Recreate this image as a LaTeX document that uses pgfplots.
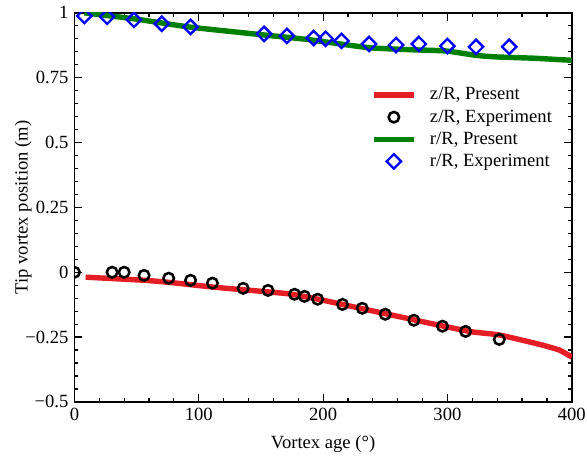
\documentclass[border=0pt]{standalone}
\usepackage{pgfplots}
\pgfplotsset{compat=1.18}
\usepackage{fontspec}
\setmainfont{Liberation Serif}
\definecolor{myred}{RGB}{228,30,36}
\definecolor{mygreen}{RGB}{0,128,0}
\definecolor{myblue}{RGB}{0,0,255}
\pgfplotsset{
  lineleg/.style={legend image code/.code={\draw[##1] (0cm,0cm) -- (23.5pt,0cm);}},
  markleg/.style={legend image code/.code={\draw[##1] plot coordinates {(11.75pt,0cm)};}},
}
\begin{document}
\begin{tikzpicture}[font=\fontsize{11}{13.2}\selectfont]
\begin{axis}[
  scale only axis,
  width=294pt, height=230pt,
  xmin=0, xmax=400, ymin=-0.5, ymax=1,
  xtick={0,100,200,300,400},
  ytick={-0.5,-0.25,0,0.25,0.5,0.75,1},
  yticklabels={−0.5,−0.25,0,0.25,0.5,0.75,1},
  minor x tick num=4, minor y tick num=4,
  tick align=inside,
  major tick length=4.7pt, minor tick length=2.4pt,
  axis line style={line width=0.9pt},
  every tick/.style={line width=0.7pt, black},
  clip marker paths=true,
  /pgf/number format/assume math mode=true,
  tick label style={font=\fontsize{11}{13.2}\selectfont},
  label style={font=\fontsize{11}{13.2}\selectfont},
  xlabel={Vortex age (°)},
  ylabel={Tip vortex position (m)},
  xlabel style={yshift=-2pt},
  ylabel style={yshift=-10.5pt},
  legend style={draw=none, fill=none, at={(0.586,0.826)}, anchor=north west,
    row sep=0.3pt, font=\fontsize{11}{13.2}\selectfont,
    /tikz/every odd column/.append style={column sep=6pt}},
  legend cell align=left,
]
\addplot[myred, line width=3.2pt, smooth, tension=0.3, lineleg] coordinates {
(9,-0.019)(56,-0.031)(76,-0.039)(111,-0.057)(132,-0.066)(172,-0.083)(196,-0.104)
(230,-0.139)(260,-0.170)(297,-0.208)(320,-0.230)(342,-0.242)(374,-0.278)(390,-0.300)(400,-0.327)};
\addlegendentry{z/R, Present}
\addplot[only marks, mark=o, mark size=3.1pt, black, line width=1.5pt, markleg] coordinates {
(0,0)(30.3,0)(40,0)(56,-0.012)(75.8,-0.023)(93.4,-0.031)(111,-0.042)
(135.7,-0.062)(155.7,-0.070)(177,-0.085)(185,-0.093)(195.6,-0.104)(215.6,-0.124)
(231.5,-0.139)(250,-0.162)(273,-0.185)(296,-0.208)(314.6,-0.228)(341.7,-0.259)};
\addlegendentry{z/R, Experiment}
\addplot[mygreen, line width=3.2pt, smooth, tension=0.3, lineleg] coordinates {
(8,1.0)(48,0.977)(93,0.945)(152,0.915)(188,0.897)(236,0.866)(270,0.858)(299,0.853)
(323,0.836)(340,0.830)(370,0.825)(400,0.817)};
\addlegendentry{r/R, Present}
\addplot[only marks, mark=square, mark size=3.0pt, mark options={rotate=45}, myblue, line width=1.4pt, markleg] coordinates {
(8,0.988)(26.3,0.985)(47.9,0.973)(70.3,0.958)(93.4,0.946)(152.5,0.919)(170.9,0.911)
(192.4,0.903)(202,0.900)(214.8,0.892)(237,0.880)(258.7,0.876)(277,0.880)(300,0.872)
(323,0.869)(349.7,0.869)};
\addlegendentry{r/R, Experiment}
\end{axis}
\pgfresetboundingbox
\path[use as bounding box] ([shift={(-44pt,-32.4pt)}]current axis.south west) rectangle ([shift={(9pt,7.6pt)}]current axis.north east);
\end{tikzpicture}
\end{document}
